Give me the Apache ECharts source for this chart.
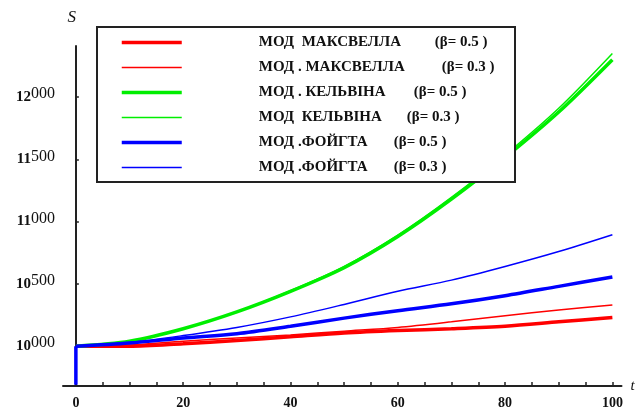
<!DOCTYPE html>
<html>
<head>
<meta charset="utf-8">
<script src="https://cdn.jsdelivr.net/npm/echarts@6/dist/echarts.min.js"></script>
<style>
  html, body { margin: 0; padding: 0; background: #fff; }
  #chart { width: 640px; height: 411px; }
</style>
</head>
<body>
<div id="chart"></div>
<script>
// Data: S(t) for the three models, two beta values each
const tValues = [0, 10, 20, 30, 40, 50, 60, 70, 80, 90, 100];
const S_START = 9690; // value just before the jump at t = 0
const S_JUMP = 10000; // value right after the jump

const maxwell05 = [10000, 10000, 10020, 10045, 10075, 10105, 10125, 10140, 10160, 10195, 10230];
const maxwell03 = [10000, 10010, 10040, 10065, 10090, 10120, 10150, 10195, 10245, 10290, 10330];
const kelvin05  = [10000, 10040, 10140, 10275, 10440, 10630, 10880, 11180, 11515, 11880, 12300];
const kelvin03  = [10000, 10040, 10140, 10275, 10445, 10640, 10892, 11195, 11535, 11910, 12350];
const voigt05   = [10000, 10025, 10065, 10100, 10160, 10225, 10285, 10340, 10405, 10480, 10555];
const voigt03   = [10000, 10030, 10085, 10150, 10235, 10335, 10440, 10530, 10640, 10760, 10895];

const legendNames = [
  'МОД  МАКСВЕЛЛА (β= 0.5 )',
  'МОД . МАКСВЕЛЛА (β= 0.3 )',
  'МОД . КЕЛЬВІНА (β= 0.5 )',
  'МОД  КЕЛЬВІНА (β= 0.3 )',
  'МОД .ФОЙГТА (β= 0.5 )',
  'МОД .ФОЙГТА (β= 0.3 )'
];

const yTicks = [10000, 10500, 11000, 11500, 12000];
const xLabels = [0, 20, 40, 60, 80, 100];
const xTicks = [0, 5, 10, 15, 20, 25, 30, 35, 40, 45, 50, 55, 60, 65, 70, 75, 80, 85, 90, 95, 100];

const serif = '"Liberation Serif", "DejaVu Serif", serif';
const lineWidths = [3.5, 1.5, 3.5, 1.5, 3.5, 1.5];

function makeSeries(name, values, color, width) {
  return {
    name: name,
    type: 'line',
    data: tValues.map((t, i) => [t, values[i]]),
    symbol: 'none',
    smooth: 0.3,
    lineStyle: { color: color, width: width },
    itemStyle: { color: color },
    z: 2
  };
}

// legend text: model name padded to a per-row width, then the beta part
const nameWidths = [176, 183, 155, 148, 135, 135];
const legendRich = {
  b: { fontFamily: serif, fontWeight: 'bold', fontSize: 15, color: '#111' }
};
nameWidths.forEach((w, i) => {
  legendRich['n' + i] = { fontFamily: serif, fontWeight: 'bold', fontSize: 15, color: '#111', width: w, padding: [0, 0, 0, 72] };
});

const chart = echarts.init(document.getElementById('chart'), null, { renderer: 'canvas' });

chart.setOption({
  backgroundColor: '#fff',
  animation: false,
  grid: { left: 63, top: 46, width: 558.5, height: 340, containLabel: false },
  xAxis: {
    type: 'value',
    min: -2.4,
    max: 101.7,
    name: 't',
    nameLocation: 'end',
    nameGap: 9,
    nameTextStyle: { fontFamily: serif, fontStyle: 'italic', fontSize: 15, color: '#111' },
    axisLine: { lineStyle: { color: '#222', width: 2 } },
    axisTick: { show: true, inside: true, length: 4, customValues: xTicks, lineStyle: { color: '#222', width: 1.5 } },
    axisLabel: {
      customValues: xLabels,
      margin: 10,
      fontFamily: serif,
      fontWeight: 'bold',
      fontSize: 14,
      color: '#111'
    },
    splitLine: { show: false }
  },
  yAxis: {
    type: 'value',
    min: 9680,
    max: 12410,
    name: 'S',
    nameLocation: 'end',
    nameGap: 20,
    nameTextStyle: { fontFamily: serif, fontStyle: 'italic', fontSize: 17, color: '#111', align: 'right' },
    axisLine: { onZero: true, lineStyle: { color: '#222', width: 2 } },
    axisTick: { show: true, inside: true, length: 3, customValues: yTicks, lineStyle: { color: '#222', width: 1.5 } },
    axisLabel: {
      customValues: yTicks,
      margin: 8,
      color: '#111',
      formatter: (v) => {
        const s = String(v);
        return '{a|' + s.slice(0, 2) + '}{b|' + s.slice(2) + '}';
      },
      rich: {
        a: { fontFamily: serif, fontWeight: 'bold', fontSize: 15, color: '#111' },
        b: { fontFamily: serif, fontSize: 16, color: '#111', padding: [0, 0, 6, 0] }
      }
    },
    splitLine: { show: false }
  },
  legend: {
    data: legendNames.map((n, i) => ({ name: n, lineStyle: { width: lineWidths[i] } })),
    orient: 'vertical',
    left: 120,
    top: 35,
    padding: 0,
    itemWidth: 60,
    itemHeight: 14,
    itemGap: 10,
    selectedMode: false,
    z: 4,
    itemStyle: { opacity: 0 },
    formatter: (name) => {
      const i = legendNames.indexOf(name);
      const cut = name.indexOf('(');
      return '{n' + i + '|' + name.slice(0, cut).trim() + '}{b|' + name.slice(cut) + '}';
    },
    textStyle: { rich: legendRich }
  },
  graphic: [{
    type: 'rect',
    left: 96,
    top: 26,
    z: 3,
    shape: { width: 418, height: 155 },
    style: { fill: '#fff', stroke: '#222', lineWidth: 2 }
  }],
  series: [
    makeSeries(legendNames[0], maxwell05, '#ff0000', lineWidths[0]),
    makeSeries(legendNames[1], maxwell03, '#ff0000', lineWidths[1]),
    makeSeries(legendNames[2], kelvin05, '#00ee00', lineWidths[2]),
    makeSeries(legendNames[3], kelvin03, '#00ee00', lineWidths[3]),
    makeSeries(legendNames[4], voigt05, '#0000ff', lineWidths[4]),
    makeSeries(legendNames[5], voigt03, '#0000ff', lineWidths[5]),
    {
      // vertical jump at t = 0 (not in the legend)
      type: 'line',
      data: [[0, S_START], [0, S_JUMP]],
      symbol: 'none',
      lineStyle: { color: '#0000ff', width: 3.5 },
      z: 2
    }
  ]
});
</script>
</body>
</html>
